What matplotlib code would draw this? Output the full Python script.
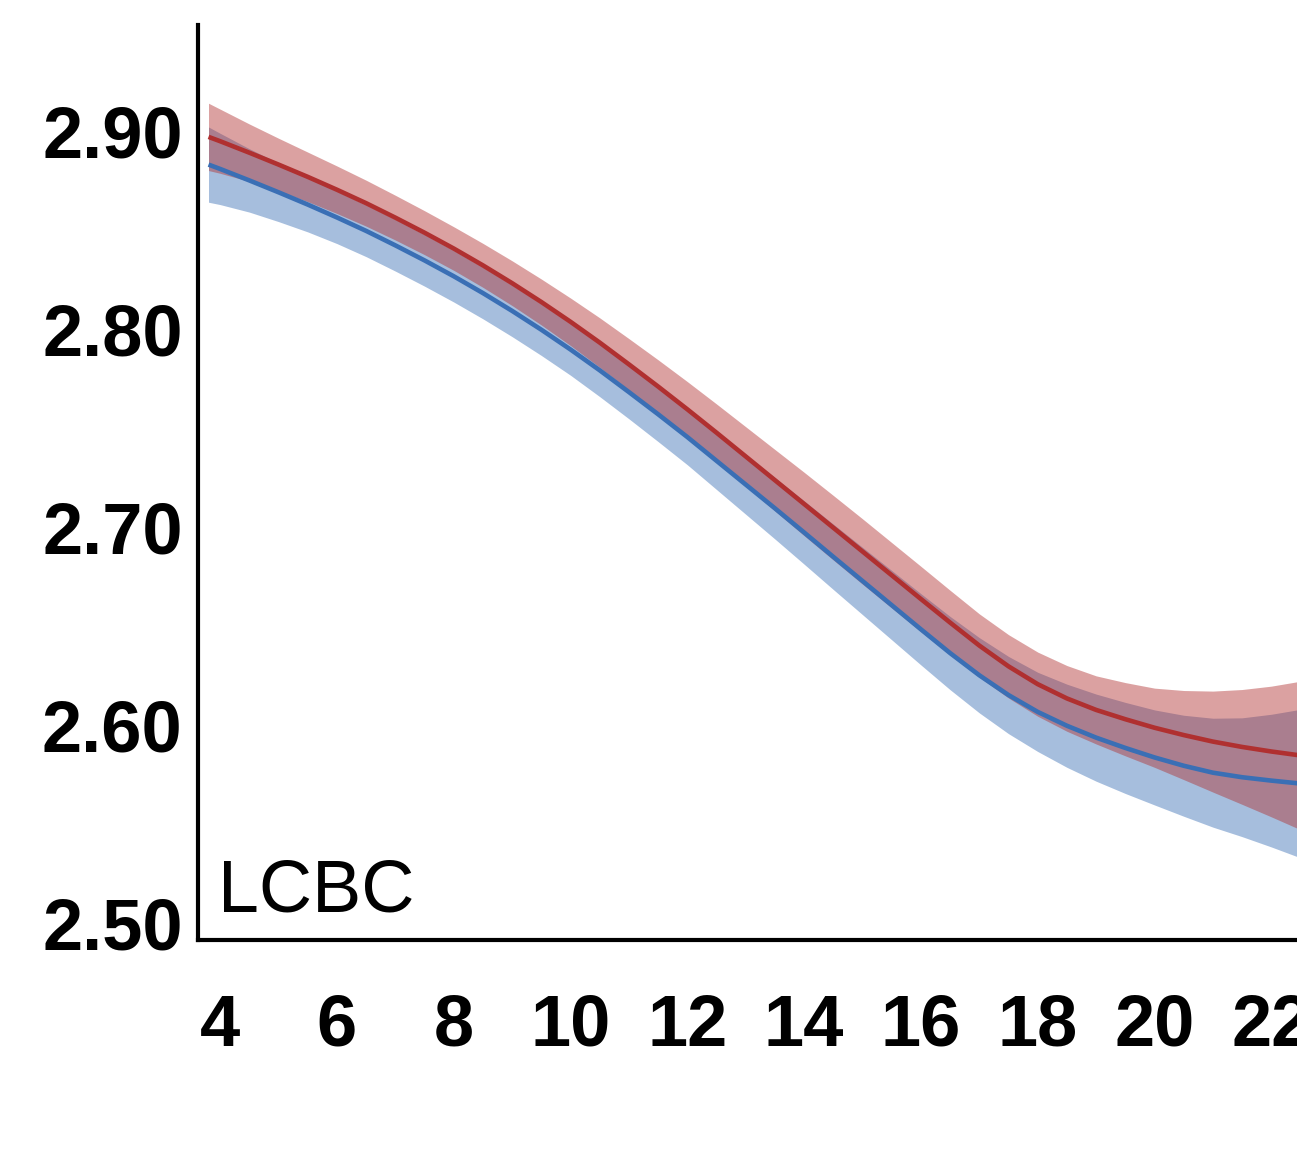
import matplotlib
matplotlib.use("Agg")
import matplotlib.pyplot as plt
import numpy as np

# age (years), fitted curves and half-width of the shaded band
age = [3.8, 4, 4.5, 5, 5.5, 6, 6.5, 7, 7.5, 8, 8.5, 9, 9.5, 10, 10.5, 11, 11.5, 12, 12.5,
       13, 13.5, 14, 14.5, 15, 15.5, 16, 16.5, 17, 17.5, 18, 18.5, 19, 19.5, 20, 20.5,
       21, 21.5, 22, 22.5]

red_mean = [2.897, 2.8948, 2.889, 2.883, 2.8768, 2.8703, 2.8635, 2.8562, 2.8486, 2.8406,
            2.8321, 2.8231, 2.8136, 2.8036, 2.7931, 2.7821, 2.7709, 2.7594, 2.7476,
            2.7356, 2.7236, 2.7116, 2.6996, 2.6876, 2.6756, 2.6636, 2.6517, 2.6401,
            2.6296, 2.6206, 2.6134, 2.6076, 2.6029, 2.5986, 2.5949, 2.5916, 2.5889,
            2.5866, 2.5846]
red_ci = [0.017, 0.0162, 0.0145, 0.0133, 0.0125, 0.012, 0.0116, 0.0113, 0.0111, 0.011,
          0.0111, 0.0113, 0.0116, 0.012, 0.0125, 0.013, 0.0135, 0.014, 0.0145, 0.015,
          0.0155, 0.016, 0.0163, 0.0165, 0.0165, 0.0165, 0.0163, 0.016, 0.016, 0.0162,
          0.0166, 0.0172, 0.0185, 0.020, 0.0225, 0.0255, 0.029, 0.033, 0.0375]

blue_mean = [2.883, 2.8808, 2.875, 2.869, 2.8628, 2.8563, 2.8495, 2.8422, 2.8346, 2.8266,
             2.8181, 2.8091, 2.7996, 2.7896, 2.7791, 2.7681, 2.7569, 2.7454, 2.7334,
             2.7214, 2.7094, 2.6972, 2.6849, 2.6727, 2.6605, 2.6483, 2.6363, 2.6251,
             2.6151, 2.6066, 2.5996, 2.5936, 2.5884, 2.5836, 2.5794, 2.5759, 2.5736,
             2.5719, 2.5704]
blue_ci = [0.019, 0.018, 0.016, 0.0148, 0.0138, 0.0132, 0.013, 0.013, 0.013, 0.013,
           0.013, 0.013, 0.013, 0.013, 0.0133, 0.0135, 0.0138, 0.014, 0.0145, 0.015,
           0.0155, 0.016, 0.0165, 0.017, 0.0175, 0.018, 0.0185, 0.019, 0.0195, 0.020,
           0.021, 0.022, 0.023, 0.024, 0.0255, 0.0275, 0.030, 0.0335, 0.0375]

x_ticks = [4, 6, 8, 10, 12, 14, 16, 18, 20, 22]
y_ticks = [2.50, 2.60, 2.70, 2.80, 2.90]
y_labels = ["2.50", "2.60", "2.70", "2.80", "2.90"]
label = "LCBC"

RED = "#b03030"
BLUE = "#3a6fb5"

a = np.array(age)
rm, rc = np.array(red_mean), np.array(red_ci)
bm, bc = np.array(blue_mean), np.array(blue_ci)

plt.rcParams['font.family'] = ['Liberation Sans', 'DejaVu Sans']

fig = plt.figure(figsize=(12.97, 11.70), dpi=100)
ax = fig.add_axes([198 / 1297, 1 - 940 / 1170, 1099 / 1297, 915 / 1170])

# blue first, red band on top of it (the blue line shows purple under the red band)
ax.fill_between(a, bm - bc, bm + bc, color=BLUE, alpha=0.45, lw=0)
ax.plot(a, bm, color=BLUE, lw=3.3, solid_capstyle='butt')
ax.fill_between(a, rm - rc, rm + rc, color=RED, alpha=0.45, lw=0)
ax.plot(a, rm, color=RED, lw=3.3, solid_capstyle='butt')

ax.set_xlim(3.62, 22.44)
ax.set_ylim(2.4914, 2.9535)

ax.set_xticks(x_ticks)
ax.set_xticklabels([str(t) for t in x_ticks])
ax.set_yticks(y_ticks)
ax.set_yticklabels(y_labels)
ax.tick_params(axis='both', length=0, labelsize=52)
ax.tick_params(axis='y', pad=11)
ax.tick_params(axis='x', pad=38)
for lab in ax.get_xticklabels() + ax.get_yticklabels():
    lab.set_fontweight('bold')

for side in ['top', 'right']:
    ax.spines[side].set_visible(False)
for side in ['left', 'bottom']:
    ax.spines[side].set_linewidth(3)

ax.text(0.018, 0.031, label, transform=ax.transAxes, fontsize=53,
        ha='left', va='baseline')

fig.savefig("out.png", dpi=100)
